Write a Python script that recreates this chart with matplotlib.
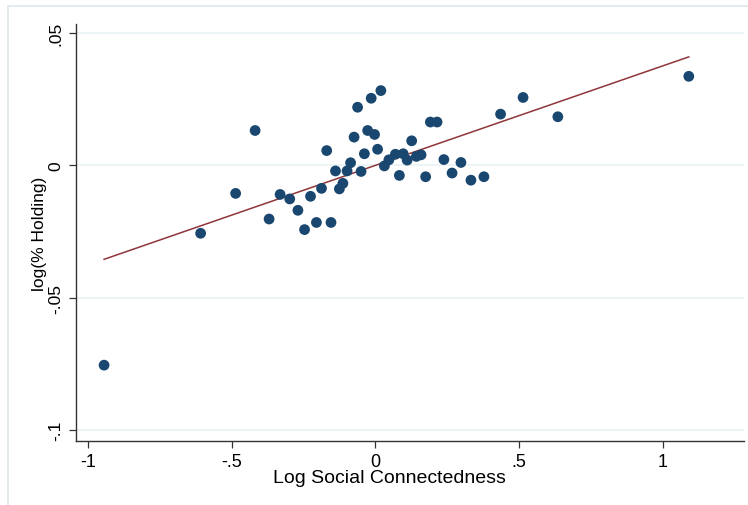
import numpy as np
import matplotlib.pyplot as plt
from matplotlib.patches import Rectangle

plt.rcParams["font.family"] = ["Liberation Sans", "DejaVu Sans"]

# ── Data: binned log social connectedness vs log(% holding) ────────────────
log_sci = [
    -0.9443, -0.6082, -0.4864, -0.4186, -0.3699, -0.3316, -0.2981, -0.2696,
    -0.2465, -0.2257, -0.2052, -0.1875, -0.1694, -0.1545, -0.1388, -0.1253,
    -0.1131, -0.0985, -0.0863, -0.0741, -0.0619, -0.0498, -0.0383, -0.0268,
    -0.0146, -0.0028, 0.0077, 0.0191, 0.0313, 0.0470, 0.0696, 0.0835,
    0.0967, 0.1106, 0.1263, 0.1427, 0.1590, 0.1750, 0.1914, 0.2147,
    0.2384, 0.2669, 0.2978, 0.3326, 0.3778, 0.4357, 0.5140, 0.6350,
    1.0909,
]
log_holding = [
    -0.0756, -0.0257, -0.0106, 0.0132, -0.0203, -0.0110, -0.0127, -0.0170,
    -0.0243, -0.0117, -0.0216, -0.0087, 0.0056, -0.0216, -0.0021, -0.0089,
    -0.0068, -0.0021, 0.0010, 0.0107, 0.0220, -0.0023, 0.0044, 0.0132,
    0.0254, 0.0117, 0.0061, 0.0283, -0.0002, 0.0021, 0.0042, -0.0038,
    0.0044, 0.0020, 0.0093, 0.0034, 0.0040, -0.0043, 0.0164, 0.0164,
    0.0022, -0.0029, 0.0011, -0.0056, -0.0043, 0.0194, 0.0257, 0.0184,
    0.0337,
]
# linear fit (lfit) coefficients
fit_slope = 0.03764
fit_intercept = 0.0000

y_ticks = [-0.1, -0.05, 0, 0.05]
y_tick_labels = ["-.1", "-.05", "0", ".05"]
x_ticks = [-1, -0.5, 0, 0.5, 1]
x_tick_labels = ["-1", "-.5", "0", ".5", "1"]

x = np.array(log_sci)
y = np.array(log_holding)
x_fit = np.array([x.min(), x.max()])

fig = plt.figure(figsize=(7.48, 5.06), dpi=100)
fig.patch.set_facecolor("white")
# faint outer frame of the graph region
fig.patches.append(Rectangle((8 / 748, -0.05), 1.1, (506 - 7) / 506 + 0.05,
                             transform=fig.transFigure, fill=False,
                             edgecolor="#e3ebef", linewidth=1.4, zorder=0))

ax = fig.add_axes([76 / 748, 64 / 506, 668 / 748, 417 / 506])
ax.set_xlim(-1.042, 1.283)
ax.set_ylim(-0.1043, 0.0535)

for yt in y_ticks:
    ax.axhline(yt, color="#eaf2f3", linewidth=1.2, zorder=0)

ax.scatter(x, y, s=60, color="#1a476f", edgecolors="none", zorder=3)
ax.plot(x_fit, fit_intercept + fit_slope * x_fit, color="#90353b",
        linewidth=1.1, zorder=2)

ax.set_xticks(x_ticks)
ax.set_xticklabels(x_tick_labels, fontsize=13)
ax.set_yticks(y_ticks)
ax.set_yticklabels(y_tick_labels, rotation=90, va="center", fontsize=12.5)
ax.tick_params(axis="both", direction="out", length=5, width=0.9,
               color="#333333", pad=4)
ax.set_xlabel("Log Social Connectedness", fontsize=14, va="top")
ax.xaxis.set_label_coords((389 - 76) / 668, -0.068)
ax.set_ylabel("log(% Holding)", fontsize=12.5, va="center")
ax.yaxis.set_label_coords(-0.054, 0.5)

for side in ("top", "right"):
    ax.spines[side].set_visible(False)
for side in ("left", "bottom"):
    ax.spines[side].set_color("#333333")
    ax.spines[side].set_linewidth(1.0)

fig.savefig("out.png", dpi=100)
